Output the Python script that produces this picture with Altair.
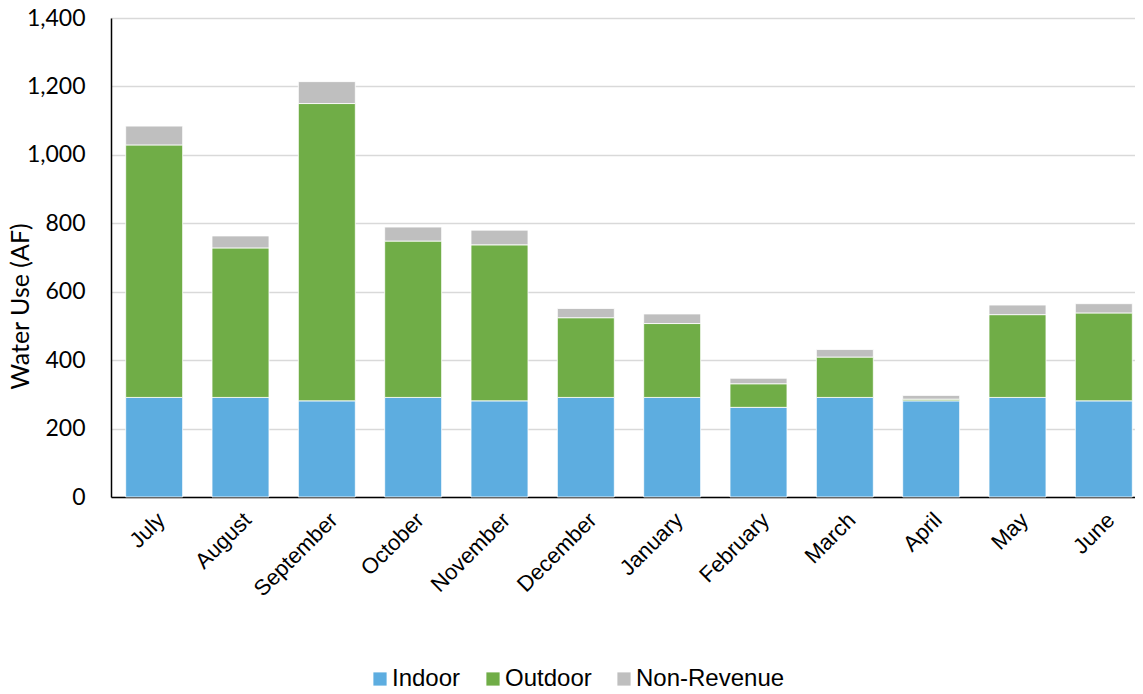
import altair as alt
import pandas as pd

months = ["July", "August", "September", "October", "November", "December",
          "January", "February", "March", "April", "May", "June"]
indoor = [291, 291, 281, 291, 281, 291, 291, 262, 291, 281, 291, 281]
outdoor = [738, 437, 869, 457, 456, 233, 216, 69, 118, 5, 242, 257]
nonrev = [55, 35, 64, 41, 43, 27, 28, 16, 22, 11, 28, 27]

series = ["Indoor", "Outdoor", "Non-Revenue"]
colors = ["#5DADE0", "#70AD47", "#BFBFBF"]

rows = []
for i, m in enumerate(months):
    for k, (s, vals) in enumerate(zip(series, [indoor, outdoor, nonrev])):
        rows.append({"Month": m, "Series": s, "Value": vals[i], "Order": k})
df = pd.DataFrame(rows)

chart = alt.Chart(df).mark_bar(stroke="white", strokeWidth=0.8).encode(
    x=alt.X("Month:N", sort=months,
            scale=alt.Scale(range=[0, 1036], paddingInner=0.34, paddingOuter=0.17),
            axis=alt.Axis(title=None, labelAngle=-45, labelFont="Liberation Sans",
                          labelFontSize=22, labelColor="#000000", ticks=False,
                          tickSize=0, labelPadding=12, domainColor="#000000",
                          domainWidth=1.5, grid=False)),
    y=alt.Y("Value:Q", stack="zero",
            scale=alt.Scale(domain=[0, 1400], nice=False),
            axis=alt.Axis(title="Water Use (AF)", values=[0, 200, 400, 600, 800, 1000, 1200, 1400],
                          format=",d", labelFont="Lato", labelFontSize=23,
                          labelColor="#000000", ticks=False, tickSize=0,
                          labelPadding=26, domainColor="#000000", domainWidth=1.5,
                          gridColor="#D9D9D9", gridWidth=1.5,
                          titleFont="Lato", titleFontSize=25, titleFontWeight="normal",
                          titleColor="#000000", titleX=-78, titleY=288)),
    color=alt.Color("Series:N", sort=series,
                    scale=alt.Scale(domain=series, range=colors),
                    legend=alt.Legend(title=None, orient="none", direction="horizontal",
                                      legendX=257, legendY=649, symbolType="square",
                                      symbolSize=175, symbolStrokeWidth=0,
                                      labelFont="Liberation Sans", labelFontSize=24,
                                      labelColor="#000000", labelOffset=0,
                                      columnPadding=20)),
    order=alt.Order("Order:Q"),
).properties(
    width=1024, height=479,
    autosize=alt.AutoSizeParams(type="none"),
    padding={"left": 103, "top": 10, "right": 0, "bottom": 189},
).configure_view(stroke=None)

chart.save("out.html", embed_options={"renderer": "svg", "actions": False})
